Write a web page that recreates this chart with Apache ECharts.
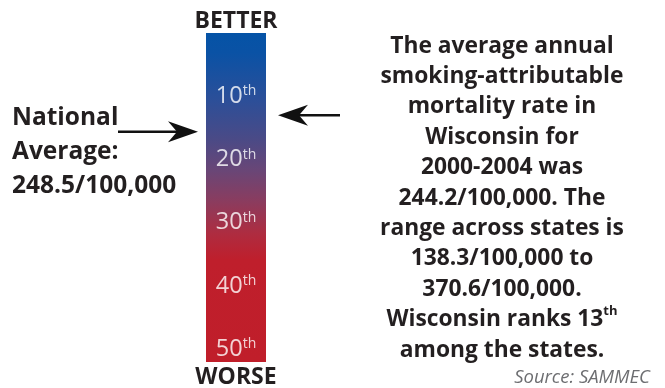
<!DOCTYPE html>
<html><head><meta charset="utf-8">
<script src="https://cdn.jsdelivr.net/npm/echarts@6/dist/echarts.min.js"></script>
<style>html,body{margin:0;padding:0;background:#fff}#c{width:665px;height:388px}</style>
</head><body><div id="c"></div>
<script>
// Data
const categories = ['Rank'];
const rankTicks = [10, 20, 30, 40, 50];
const rankSuffix = ['th', 'th', 'th', 'th', 'th'];
const scaleMax = [52];           // total bar extent in ranks
const nationalAverageRank = [15.6];
const wisconsinRank = [13];
const topLabel = 'BETTER';
const bottomLabel = 'WORSE';
const leftLines = ['National', 'Average:', '248.5/100,000'];
const rightLines = ['The average annual', 'smoking-attributable', 'mortality rate in', 'Wisconsin for',
  '2000-2004 was', '244.2/100,000. The', 'range across states is', '138.3/100,000 to',
  '370.6/100,000.', 'Wisconsin ranks 13{sup|th}', 'among the states.'];
const sourceText = 'Source: SAMMEC';

const FONT = '"Open Sans"';
const DARK = '#231f20';
const chart = echarts.init(document.getElementById('c'), null, {renderer: 'canvas'});

function arrowShape(x0, x1, y) {
  const dir = x1 > x0 ? 1 : -1;
  return [
    {type: 'line', shape: {x1: x0, y1: y, x2: x1 - dir * 20, y2: y}, style: {stroke: '#111', lineWidth: 2.5}},
    {type: 'polygon', shape: {points: [[x1, y], [x1 - dir * 30, y - 10.5], [x1 - dir * 21, y], [x1 - dir * 30, y + 10.5]]}, style: {fill: '#111'}}
  ];
}

chart.setOption({
  animation: false,
  grid: {left: 206, width: 60, top: 33, bottom: 26},
  xAxis: {type: 'category', data: categories, show: false},
  yAxis: {type: 'value', inverse: true, min: 0, max: scaleMax[0], show: false},
  series: [
    {
      type: 'bar', barWidth: '100%', data: scaleMax, silent: true,
      itemStyle: {color: new echarts.graphic.LinearGradient(0, 0, 0, 1, [
        {offset: 0, color: '#0553a6'},
        {offset: 0.06, color: '#0a52a5'},
        {offset: 0.2, color: '#2b4f99'},
        {offset: 0.325, color: '#4b4a86'},
        {offset: 0.42, color: '#6a4676'},
        {offset: 0.51, color: '#8a3c5f'},
        {offset: 0.61, color: '#ae2c40'},
        {offset: 0.69, color: '#bf1f2c'},
        {offset: 1, color: '#c01e2a'}
      ])}
    },
    {
      type: 'scatter', symbolSize: 0, silent: true,
      data: rankTicks.map((r, i) => ({value: [categories[0], r], suf: rankSuffix[i]})),
      label: {
        show: true, position: 'inside',
        formatter: p => p.value[1] + '{sup|' + p.data.suf + '}',
        color: '#fff', fontFamily: FONT, fontSize: 23.5, fontWeight: 'normal',
        rich: {sup: {fontSize: 14, color: '#fff', fontFamily: FONT, verticalAlign: 'top', padding: [0, 0, 10, 0]}}
      }
    },
    {
      type: 'custom', silent: true, clip: false,
      data: [[0, nationalAverageRank[0], 0], [0, wisconsinRank[0], 1]],
      renderItem: (params, api) => {
        const pt = api.coord([api.value(0), api.value(1)]);
        const side = api.value(2);
        const children = side === 0
          ? arrowShape(pt[0] - 118, pt[0] - 38, pt[1])
          : arrowShape(pt[0] + 104, pt[0] + 42, pt[1]);
        return {type: 'group', children};
      }
    }
  ],
  graphic: [
    {type: 'text', x: 236, y: 21, style: {text: topLabel, align: 'center', verticalAlign: 'middle', font: 'bold 23px ' + FONT, fill: DARK}},
    {type: 'text', x: 236, y: 377, style: {text: bottomLabel, align: 'center', verticalAlign: 'middle', font: 'bold 23px ' + FONT, fill: DARK}},
    {type: 'text', x: 12, y: 101, style: {text: leftLines.join('\n'), align: 'left', verticalAlign: 'top', font: 'bold 24.5px ' + FONT, lineHeight: 34, fill: DARK}},
    {type: 'text', x: 502, y: 31, style: {text: rightLines.join('\n'), align: 'center', verticalAlign: 'top', fontFamily: FONT, fontWeight: 'bold', fontSize: 22.8, lineHeight: 30.4, fill: DARK,
      rich: {sup: {fontFamily: FONT, fontWeight: 'bold', fontSize: 13, fill: DARK, verticalAlign: 'top', padding: [0, 0, 12, 0]}}}},
    {type: 'text', x: 650, y: 378, style: {text: sourceText, align: 'right', verticalAlign: 'middle', font: 'italic 18.5px ' + FONT, fill: '#6d6e71'}}
  ]
});
</script></body></html>
